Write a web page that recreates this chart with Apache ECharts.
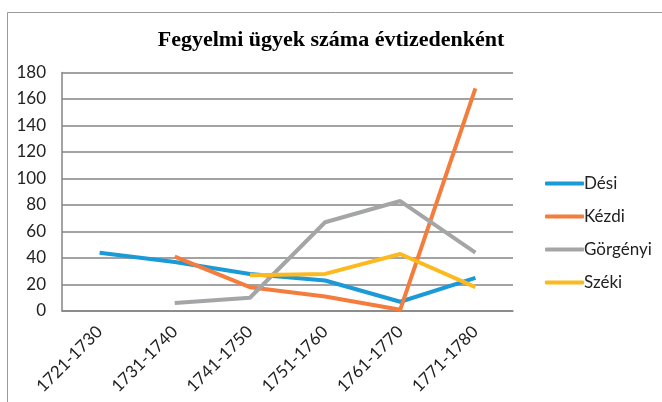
<!DOCTYPE html>
<html>
<head>
<meta charset="utf-8">
<script src="https://cdn.jsdelivr.net/npm/echarts@6/dist/echarts.min.js"></script>
<style>html,body{margin:0;padding:0;background:#fff;}#c{width:662px;height:402px;}</style>
</head>
<body>
<div id="c"></div>
<script>
var categories = ['1721-1730', '1731-1740', '1741-1750', '1751-1760', '1761-1770', '1771-1780'];
var desi = [44, 37, 28, 23, 7, 25];
var kezdi = [null, 41, 18, 11, 1, 168];
var gorgenyi = [null, 6, 10, 67, 83, 44];
var szeki = [null, null, 27, 28, 43, 18];
var yTicks = [0, 20, 40, 60, 80, 100, 120, 140, 160, 180];

var chart = echarts.init(document.getElementById('c'));
function line(name, data, color) {
  return {
    name: name, type: 'line', data: data, symbol: 'none',
    lineStyle: { width: 4, color: color }, itemStyle: { color: color }
  };
}
chart.setOption({
  animation: false,
  graphic: [{
    type: 'rect', left: 5, top: 10,
    shape: { width: 670, height: 390 },
    style: { fill: 'none', stroke: '#9a9a9a', lineWidth: 1 }
  }],
  title: {
    text: 'Fegyelmi ügyek száma évtizedenként',
    left: 'center', top: 24,
    textStyle: { fontFamily: 'Liberation Serif', fontWeight: 'bold', fontSize: 22, color: '#000' }
  },
  legend: {
    orient: 'vertical', left: 540, top: 170, itemGap: 16,
    itemWidth: 39, itemHeight: 4, icon: 'roundRect',
    textStyle: { fontFamily: 'Lato', fontSize: 17, color: '#222', lineHeight: 17, padding: [0, 0, 0, -5] },
    data: ['Dési', 'Kézdi', 'Görgényi', 'Széki']
  },
  grid: { left: 62, right: 149, top: 72.5, bottom: 91, containLabel: false },
  xAxis: {
    type: 'category', data: categories, boundaryGap: true,
    axisLine: { lineStyle: { color: '#858585', width: 1.5 } },
    axisTick: { show: false },
    axisLabel: { rotate: 45, margin: 18, fontFamily: 'Lato', fontSize: 17, color: '#222' }
  },
  yAxis: {
    type: 'value', min: yTicks[0], max: yTicks[yTicks.length - 1], interval: 20,
    axisLine: { show: true, lineStyle: { color: '#858585', width: 1.5 } },
    axisTick: { show: false },
    splitLine: { lineStyle: { color: '#858585', width: 1.5 } },
    axisLabel: { margin: 16, fontFamily: 'Lato', fontSize: 17, color: '#222' }
  },
  series: [
    line('Dési', desi, '#1a9ad6'),
    line('Kézdi', kezdi, '#f47c3c'),
    line('Görgényi', gorgenyi, '#a3a5a7'),
    line('Széki', szeki, '#fdba20')
  ]
});
</script>
</body>
</html>
